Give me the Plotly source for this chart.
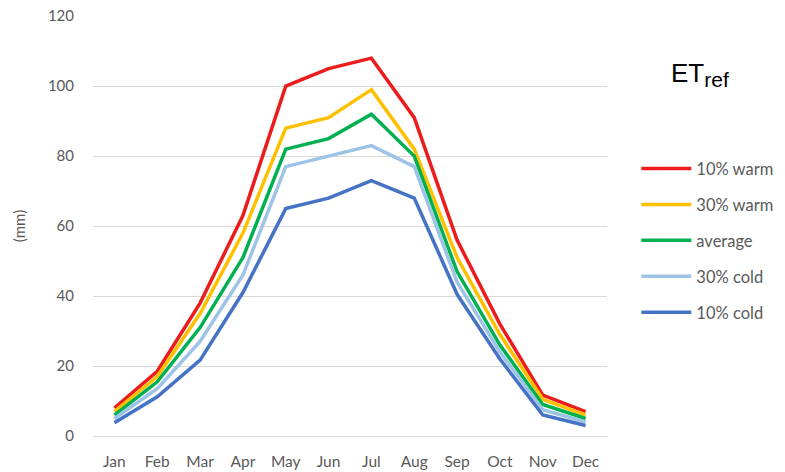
import plotly.graph_objects as go

months = ["Jan", "Feb", "Mar", "Apr", "May", "Jun", "Jul", "Aug", "Sep", "Oct", "Nov", "Dec"]
warm10 = [8, 18.5, 38, 63, 100, 105, 108, 91, 56, 32, 11.7, 7]
warm30 = [7, 17, 35, 58, 88, 91, 99, 82, 51, 29, 10.5, 6]
average = [6, 15.5, 31, 51, 82, 85, 92, 80, 47, 26, 9, 5]
cold30 = [5, 13.5, 27, 46, 77, 80, 83, 77, 44, 24, 7.5, 4]
cold10 = [3.8, 11.2, 21.7, 41, 65, 68, 73, 68, 40.5, 22, 6, 3]

names = ["10% warm", "30% warm", "average", "30% cold", "10% cold"]
series = [warm10, warm30, average, cold30, cold10]
colors = ["#ED1C1C", "#FFC000", "#00B050", "#9DC3E6", "#4472C4"]

fig = go.Figure()
for n, s, c in zip(names, series, colors):
    fig.add_trace(go.Scatter(x=months, y=s, name=n, mode="lines",
                             legendgroup=n,
                             line=dict(color=c, width=3.5)))

FONT = "Lato, Open Sans, Liberation Sans, sans-serif"
fig.update_layout(
    width=777, height=464,
    margin=dict(l=85, r=177, t=8, b=36),
    plot_bgcolor="white", paper_bgcolor="white",
    font=dict(family=FONT, color="#595959", size=15),
    xaxis=dict(range=[-0.5, 11.5], showgrid=False, showline=False, ticks="",
               ticklabelstandoff=14, automargin=False,
               tickfont=dict(size=15.5, color="#595959")),
    yaxis=dict(range=[0, 120.05], dtick=20, showgrid=True, gridcolor="#D9D9D9", gridwidth=1,
               zeroline=True, zerolinecolor="#D9D9D9", zerolinewidth=1,
               ticks="", ticklabelstandoff=18, ticklabeloverflow="allow", automargin=False,
               tickfont=dict(size=15, color="#595959"),
               title=dict(text="(mm)", font=dict(size=15, color="#595959"), standoff=18)),
    legend=dict(x=1.055, y=0.678, xanchor="left", yanchor="top",
                font=dict(size=16.5, color="#595959"), tracegroupgap=11.5,
                itemwidth=50, bgcolor="rgba(0,0,0,0)"),
    annotations=[dict(text="ET<sub><span style='font-size:21px'>ref</span></sub>",
                      x=1.12, y=0.86, xref="paper", yref="paper",
                      xanchor="left", yanchor="middle", showarrow=False,
                      font=dict(family="Liberation Sans, Arial, sans-serif", size=26, color="#000000"))],
)

fig.write_html("out.html")
